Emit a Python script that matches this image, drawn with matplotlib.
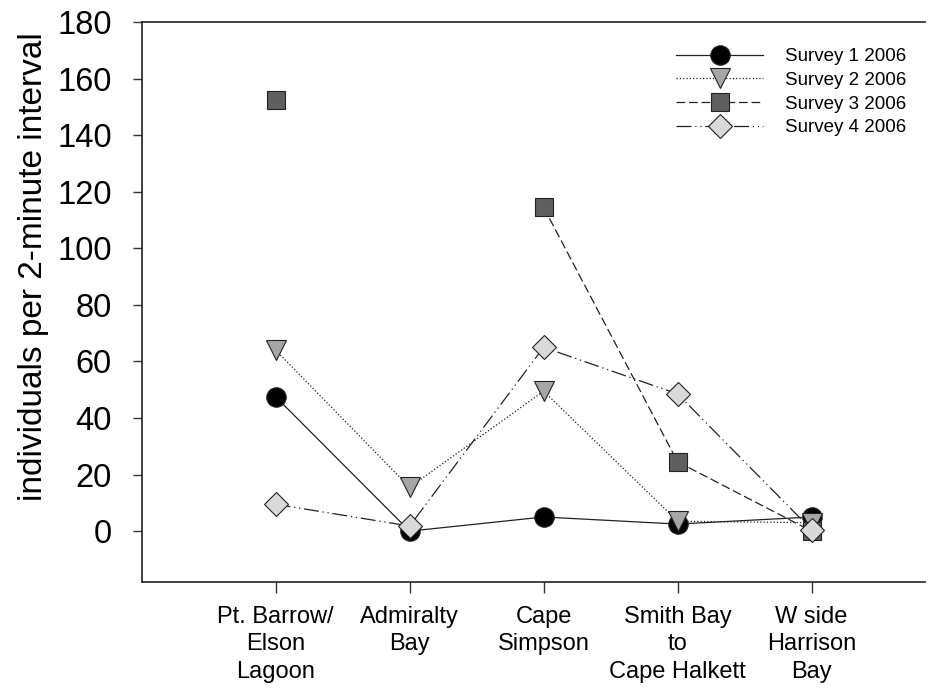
import numpy as np
import matplotlib.pyplot as plt

plt.rcParams['font.family'] = ['Liberation Sans', 'DejaVu Sans']

# survey sites along the coast (west to east)
sites = ['Pt. Barrow/\nElson\nLagoon', 'Admiralty\nBay', 'Cape\nSimpson',
         'Smith Bay\nto\nCape Halkett', 'W side\nHarrison\nBay']

# individuals per 2-minute interval, NaN = site not surveyed
survey1 = [47.5, 0.0, 5.0, 2.5, 5.0]
survey2 = [64.0, 15.5, 49.5, 3.5, 3.0]
survey3 = [152.5, np.nan, 114.5, 24.5, 0.0]
survey4 = [9.5, 1.8, 65.0, 48.5, 0.5]

series = [
    ('Survey 1 2006', survey1, '-', 'o', 'black', 14),
    ('Survey 2 2006', survey2, ':', 'v', '#a6a6a6', 14),
    ('Survey 3 2006', survey3, (0, (7, 3)), 's', '#5f5f5f', 13),
    ('Survey 4 2006', survey4, (0, (12, 3, 1, 3, 1, 3)), 'D', '#d9d9d9', 12),
]

fig = plt.figure(figsize=(9.32, 6.88), dpi=100)
ax = fig.add_axes([0.152, 0.154, 0.841, 0.814])

x = np.arange(1, len(sites) + 1)
for label, vals, ls, mk, fc, ms in series:
    ax.plot(x, vals, linestyle=ls, color='#222222', linewidth=0.9,
            marker=mk, markersize=ms, markerfacecolor=fc,
            markeredgecolor='#222222', markeredgewidth=0.8, label=label)

ax.set_xlim(0.0, 5.85)
ax.set_ylim(-18, 180)
ax.set_yticks(np.arange(0, 181, 20))
ax.set_xticks(x)
ax.set_xticklabels(sites, fontsize=17, linespacing=1.32)
ax.tick_params(axis='y', labelsize=23.5, direction='out', length=6.5, width=1,
               pad=15, color='#333333')
ax.tick_params(axis='x', direction='out', length=8, width=1, pad=9,
               color='#333333')
ax.set_ylabel('individuals per 2-minute interval', fontsize=24)
ax.yaxis.set_label_coords(-0.118, 0.564)

ax.spines['right'].set_visible(False)
for s in ('left', 'bottom', 'top'):
    ax.spines[s].set_linewidth(1.2)
    ax.spines[s].set_color('#222222')

ax.legend(loc='upper right', frameon=False, fontsize=13.5, handlelength=4.6,
          handletextpad=1.2, labelspacing=0.35, borderaxespad=0.4,
          bbox_to_anchor=(0.995, 0.98))

fig.savefig('out.png', dpi=100)
